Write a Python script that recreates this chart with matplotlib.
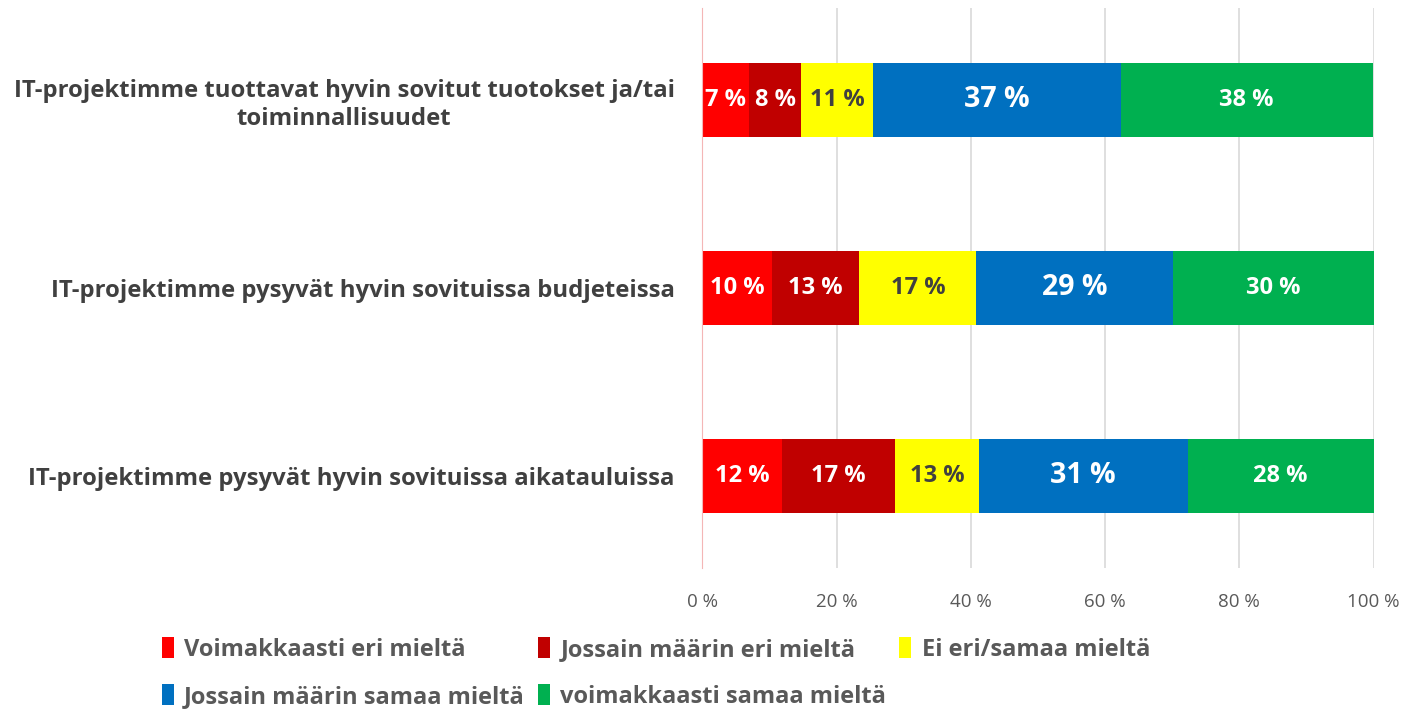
import numpy as np
import matplotlib.pyplot as plt

plt.rcParams['font.family'] = ['Open Sans', 'DejaVu Sans']

questions = [
    'IT-projektimme tuottavat hyvin sovitut tuotokset ja/tai\ntoiminnallisuudet',
    'IT-projektimme pysyvät hyvin sovituissa budjeteissa',
    'IT-projektimme pysyvät hyvin sovituissa aikatauluissa',
]
series = ['Voimakkaasti eri mieltä', 'Jossain määrin eri mieltä', 'Ei eri/samaa mieltä',
          'Jossain määrin samaa mieltä', 'voimakkaasti samaa mieltä']
colors = ['#ff0000', '#c00000', '#ffff00', '#0070c0', '#00b050']

# percent shares per question (row) and answer (column)
values = np.array([
    [7.0, 7.7, 10.7, 36.9, 37.6],
    [10.3, 13.1, 17.4, 29.3, 29.9],
    [11.9, 16.8, 12.5, 31.1, 27.7],
])
labels = [
    [7, 8, 11, 37, 38],
    [10, 13, 17, 29, 30],
    [12, 17, 13, 31, 28],
]

fig = plt.figure(figsize=(14.19, 7.10), dpi=100)
ax = fig.add_axes([0.495, 0.2, 0.473, 0.789])

y = np.arange(len(questions))
left = np.zeros(len(questions))
handles = []
for j, name in enumerate(series):
    h = ax.barh(y, values[:, j], left=left, height=0.39, color=colors[j], label=name, zorder=2)
    handles.append(h)
    for i in range(len(questions)):
        tc = '#404040' if j == 2 else 'white'
        fs = 20.5 if j == 3 else 17
        ax.text(left[i] + values[i, j] / 2, y[i], '%d %%' % labels[i][j],
                ha='center', va='center', color=tc, fontsize=fs, fontweight='bold', zorder=3)
    left += values[:, j]

ax.set_xlim(0, 100)
ax.set_ylim(2.49, -0.49)
ax.set_xticks(np.arange(0, 101, 20))
ax.set_xticklabels(['%d %%' % v for v in range(0, 101, 20)], color='#595959', fontsize=13.5)
ax.set_yticks(y)
ax.set_yticklabels(questions, fontsize=17.2, fontweight='bold', color='#404040',
                   ha='right', multialignment='center')
ax.tick_params(axis='y', length=0, pad=20)
ax.tick_params(axis='x', length=0, pad=18)
ax.grid(axis='x', color='#d9d9d9', linewidth=1.2, zorder=0)
for s in ['top', 'right', 'bottom']:
    ax.spines[s].set_visible(False)
ax.spines['left'].set_color('#f4b6b6')
ax.spines['left'].set_zorder(4)

order = [0, 3, 1, 4, 2]
leg = fig.legend([handles[k] for k in order], [series[k] for k in order],
                 loc='lower left', bbox_to_anchor=(0.099, -0.028), ncol=3, frameon=False,
                 handlelength=0.5, handleheight=1.0, handletextpad=0.45,
                 columnspacing=0.55, labelspacing=0.95,
                 prop={'size': 17, 'weight': 'bold'})
for t in leg.get_texts():
    t.set_color('#595959')

fig.savefig('out.png', dpi=100)
